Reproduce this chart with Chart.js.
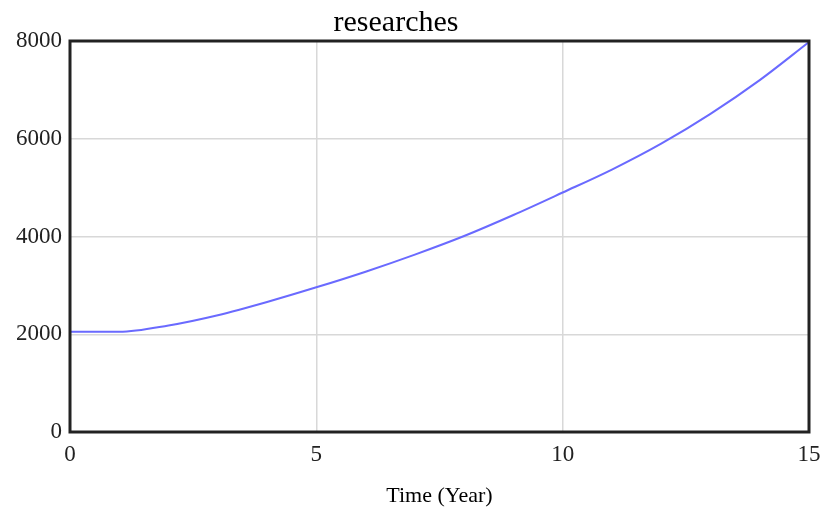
<!DOCTYPE html>
<html>
<head>
<meta charset="utf-8">
<script src="https://cdn.jsdelivr.net/npm/chart.js@4"></script>
<style>
  html, body { margin: 0; padding: 0; background: #fff; }
  #wrap { width: 825px; height: 512px; }
</style>
</head>
<body>
<div id="wrap"><canvas id="chart" width="825" height="512"></canvas></div>
<script>
const chartTitle = 'researches';
const xTitle = 'Time (Year)';
const years = [0, 1, 2, 3, 4, 5, 6, 7, 8, 9, 10, 11, 12, 13, 14, 15];
const researches = [2050, 2050, 2180, 2390, 2660, 2960, 3280, 3630, 4010, 4440, 4900, 5370, 5900, 6510, 7200, 7980];

const serif = '"Liberation Serif", "Times New Roman", serif';

// frame round the plot area and the title on top
const framePlugin = {
  id: 'frame',
  afterDraw(chart) {
    const { ctx, chartArea } = chart;
    ctx.save();
    ctx.strokeStyle = '#222';
    ctx.lineWidth = 3;
    ctx.strokeRect(chartArea.left, chartArea.top, chartArea.right - chartArea.left, chartArea.bottom - chartArea.top);
    ctx.fillStyle = '#000';
    ctx.font = '30px ' + serif;
    ctx.textAlign = 'center';
    ctx.textBaseline = 'alphabetic';
    ctx.fillText(chartTitle, 396, 31);
    ctx.restore();
  }
};

new Chart(document.getElementById('chart'), {
  type: 'line',
  data: {
    datasets: [{
      label: chartTitle,
      data: years.map((t, i) => ({ x: t, y: researches[i] })),
      borderColor: '#6a6aff',
      borderWidth: 2,
      pointRadius: 0,
      cubicInterpolationMode: 'monotone',
      fill: false
    }]
  },
  options: {
    responsive: false,
    animation: false,
    layout: { padding: { top: 41, right: 0, left: 0, bottom: 0 } },
    plugins: {
      legend: { display: false },
      title: { display: false },
      tooltip: { enabled: false }
    },
    scales: {
      x: {
        type: 'linear',
        min: 0,
        max: 15,
        ticks: { stepSize: 5, color: '#222', font: { family: serif, size: 23 }, padding: 9, maxRotation: 0,
          callback: v => String(v) },
        grid: { color: '#d8d8d8', lineWidth: 1.5, drawTicks: false },
        border: { display: false },
        title: { display: true, text: xTitle, color: '#000', font: { family: serif, size: 22 }, padding: { top: 4, bottom: 3 } },
        afterFit(scale) {
          scale.height = 80;
          scale.paddingRight = 16;
        }
      },
      y: {
        min: 0,
        max: 8000,
        ticks: { stepSize: 2000, color: '#222', font: { family: serif, size: 23 }, padding: 8,
          callback: v => String(v) },
        grid: { color: '#d8d8d8', lineWidth: 1.5, drawTicks: false },
        border: { display: false },
        afterFit(scale) { scale.width = 70; }
      }
    }
  },
  plugins: [framePlugin]
});
</script>
</body>
</html>
